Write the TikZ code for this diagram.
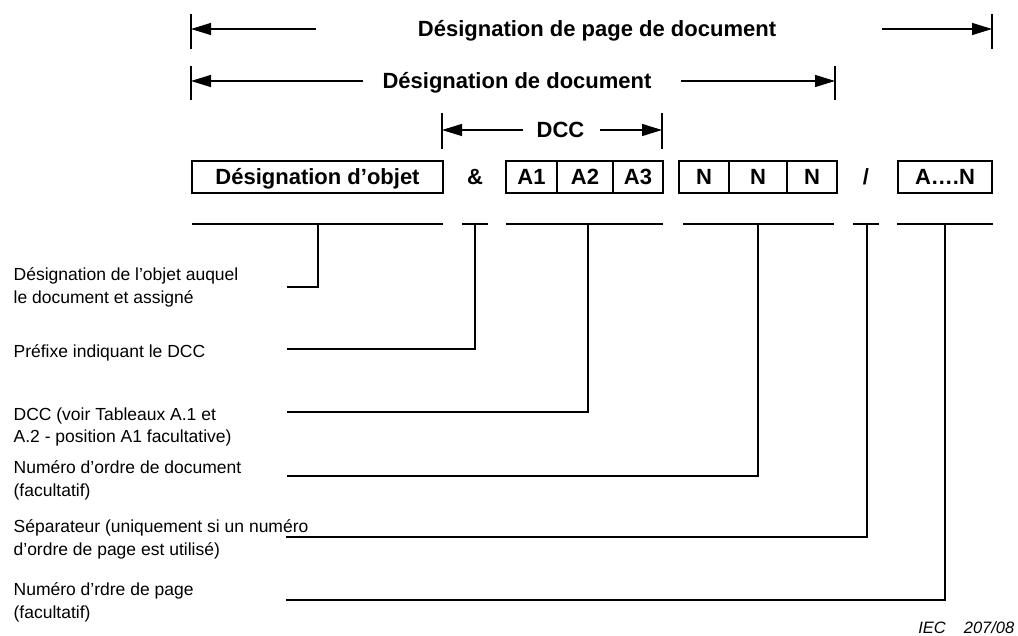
\documentclass[tikz,border=0pt]{standalone}
\usepackage{fontspec}
\setmainfont{Liberation Sans}
\usetikzlibrary{arrows.meta}
\begin{document}
\begin{tikzpicture}[x=1pt,y=-1pt,
  line width=1.3pt,
  bold/.style={font=\fontsize{22}{26}\selectfont\bfseries, inner sep=0pt,
               text height=15.8pt, text depth=0pt},
  field/.style={draw, line width=1.3pt, minimum height=32pt, inner sep=0pt,
                text height=15.8pt, text depth=0pt,
                font=\fontsize{22}{26}\selectfont\bfseries},
  lbl/.style={font=\fontsize{17.5}{22.5}\selectfont, align=left, anchor=west, inner sep=0pt},
  dim/.style={-{Triangle[length=20pt,width=12pt]}},
]
\useasboundingbox (0,0) rectangle (1018,636);

% ---- dimension line: page designation ----
\coordinate (pgL) at (191,29);
\coordinate (pgR) at (992,29);
\coordinate (pgLt) at (316,29);
\coordinate (pgRt) at (882,29);
\draw (191,14) -- (191,49);
\draw (992,14) -- (992,49);
\node[bold] (pgTitle) at (597,29) {Désignation de page de document};
\draw[dim] (pgLt) -- (pgL);
\draw[dim] (pgRt) -- (pgR);

% ---- dimension line: document designation ----
\coordinate (docL) at (191,81);
\coordinate (docR) at (835,81);
\coordinate (docLt) at (363,81);
\coordinate (docRt) at (681,81);
\draw (191,66) -- (191,100);
\draw (835,66) -- (835,100);
\node[bold] (docTitle) at (517,81) {Désignation de document};
\draw[dim] (docLt) -- (docL);
\draw[dim] (docRt) -- (docR);

% ---- dimension line: DCC ----
\coordinate (dccL) at (442,130);
\coordinate (dccR) at (662,130);
\coordinate (dccLt) at (523,130);
\coordinate (dccRt) at (600,130);
\draw (442,113) -- (442,149);
\draw (662,113) -- (662,149);
\node[bold] (dccTitle) at (560.5,130) {DCC};
\draw[dim] (dccLt) -- (dccL);
\draw[dim] (dccRt) -- (dccR);

% ---- fields ----
\node[field, minimum width=251pt] (obj) at (317.5,177) {Désignation d’objet};
\node[bold] (amp) at (475,177) {\&};
\node[field, minimum width=51pt] (a1) at (531.5,177) {A1};
\node[field, minimum width=56pt] (a2) at (585,177) {A2};
\node[field, minimum width=50pt] (a3) at (638,177) {A3};
\node[field, minimum width=50pt] (n1) at (704,177) {N};
\node[field, minimum width=58pt] (n2) at (758,177) {N};
\node[field, minimum width=50pt] (n3) at (812,177) {N};
\node[bold] (slash) at (866,177) {/};
\node[field, minimum width=94pt] (pg) at (945,177) {A….N};

% ---- underlines ----
\draw (192,224) -- (443,224);
\draw (462,224) -- (488,224);
\draw (506,224) -- (663,224);
\draw (683,224) -- (834,224);
\draw (853,224) -- (879,224);
\draw (897,224) -- (993,224);

\coordinate (u1) at (318,224);
\coordinate (u2) at (475,224);
\coordinate (u3) at (588,224);
\coordinate (u4) at (758,224);
\coordinate (u5) at (867,224);
\coordinate (u6) at (945,224);

% ---- explanations ----
\node[lbl] (t1) at (13,287.5) {Désignation de l’objet auquel\\le document et assigné};
\node[lbl] (t2) at (13,353) {Préfixe indiquant le DCC};
\node[lbl] (t3) at (13,427) {DCC (voir Tableaux A.1 et\\A.2 - position A1 facultative)};
\node[lbl] (t4) at (13,480.5) {Numéro d’ordre de document\\(facultatif)};
\node[lbl] (t5) at (13,539.5) {Séparateur (uniquement si un numéro\\d’ordre de page est utilisé)};
\node[lbl] (t6) at (13,602.5) {Numéro d’rdre de page\\(facultatif)};

\coordinate (e1) at (287,287);
\coordinate (e2) at (287,349);
\coordinate (e3) at (287,412);
\coordinate (e4) at (287,476);
\coordinate (e5) at (286,537);
\coordinate (e6) at (286,600);

\draw (u1) |- (e1);
\draw (u2) |- (e2);
\draw (u3) |- (e3);
\draw (u4) |- (e4);
\draw (u5) |- (e5);
\draw (u6) |- (e6);

\node[anchor=east, inner sep=0pt, font=\fontsize{16.5}{20}\selectfont\itshape] (ref) at (1015,628) {IEC\hspace{18pt}207/08};
\end{tikzpicture}
\end{document}
